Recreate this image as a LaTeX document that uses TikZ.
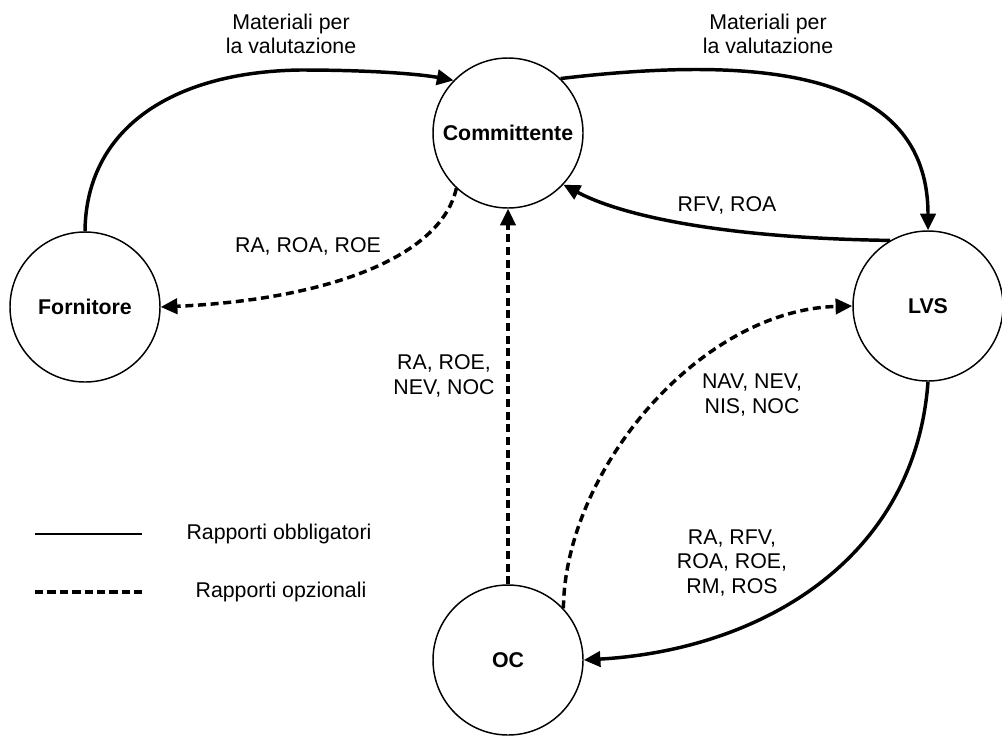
\documentclass[tikz,border=0pt]{standalone}
\usepackage{fontspec}
\setmainfont{Liberation Sans}
\usetikzlibrary{arrows.meta,positioning}

\tikzset{
  stato/.style={circle, draw, line width=1.1pt, minimum size=112.5pt, inner sep=0pt, font=\fontsize{16}{18.4}\selectfont\bfseries},
  obbl/.style={line width=2.6pt, -{Triangle[length=12.5pt,width=11.5pt]}},
  opz/.style={obbl, dash pattern=on 6pt off 3.5pt},
  etic/.style={align=center, inner sep=0pt},
}

\begin{document}
\begin{tikzpicture}[x=0.75pt,y=-0.75pt,font=\fontsize{16}{18.4}\selectfont]
  \useasboundingbox (0,0) rectangle (1002,736);
  % stati
  \node[stato] (comm) at (508,133) {Committente};
  \node[stato] (forn) at (85,307) {Fornitore};
  \node[stato] (lvs) at (928,306) {LVS};
  \node[stato] (oc) at (508,660) {OC};
  % rapporti obbligatori
  \draw[obbl](forn.north) .. controls (86,130) and (170,72) .. (300,70) .. controls (380,70) and (425,75) .. (comm.136);
  \draw[obbl](comm.46) .. controls (760,55) and (928,70) .. (lvs.north);
  \draw[obbl](lvs.120) .. controls (720,238) and (620,215) .. (comm.-43);
  \draw[obbl](lvs.south) .. controls (915,560) and (760,650) .. (oc.east);
  % rapporti opzionali
  \draw[opz](comm.227) .. controls (440,260) and (320,300) .. (forn.east);
  \draw[opz](oc.north)--(comm.south);
  \draw[opz](oc.43) .. controls (565,470) and (700,310) .. (lvs.west);
  % etichette
  \node[etic] (mat1) at (291,34) {Materiali per\\la valutazione};
  \node[etic] (mat2) at (768,34) {Materiali per\\la valutazione};
  \node[etic] (rfv) at (727,205) {RFV, ROA};
  \node[etic] (rae) at (308,246) {RA, ROA, ROE};
  \node[etic] (rnoc) at (444,376) {RA, ROE,\\NEV, NOC};
  \node[etic] (nav) at (752,395) {NAV, NEV,\\NIS, NOC};
  \node[etic] (rros) at (732,563) {RA, RFV,\\ROA, ROE,\\RM, ROS};
  % legenda
  \coordinate (l1a) at (35,534);
  \coordinate (l1b) at (142,534);
  \coordinate (l2a) at (35,592);
  \coordinate (l2b) at (142,592);
  \draw[line width=1.5pt](l1a)--(l1b);
  \draw[line width=2.5pt, dash pattern=on 6.3pt off 3pt](l2a)--(l2b);
  \node (leg1) at (279,534) {Rapporti obbligatori};
  \node (leg2) at (281,592) {Rapporti opzionali};
\end{tikzpicture}
\end{document}
